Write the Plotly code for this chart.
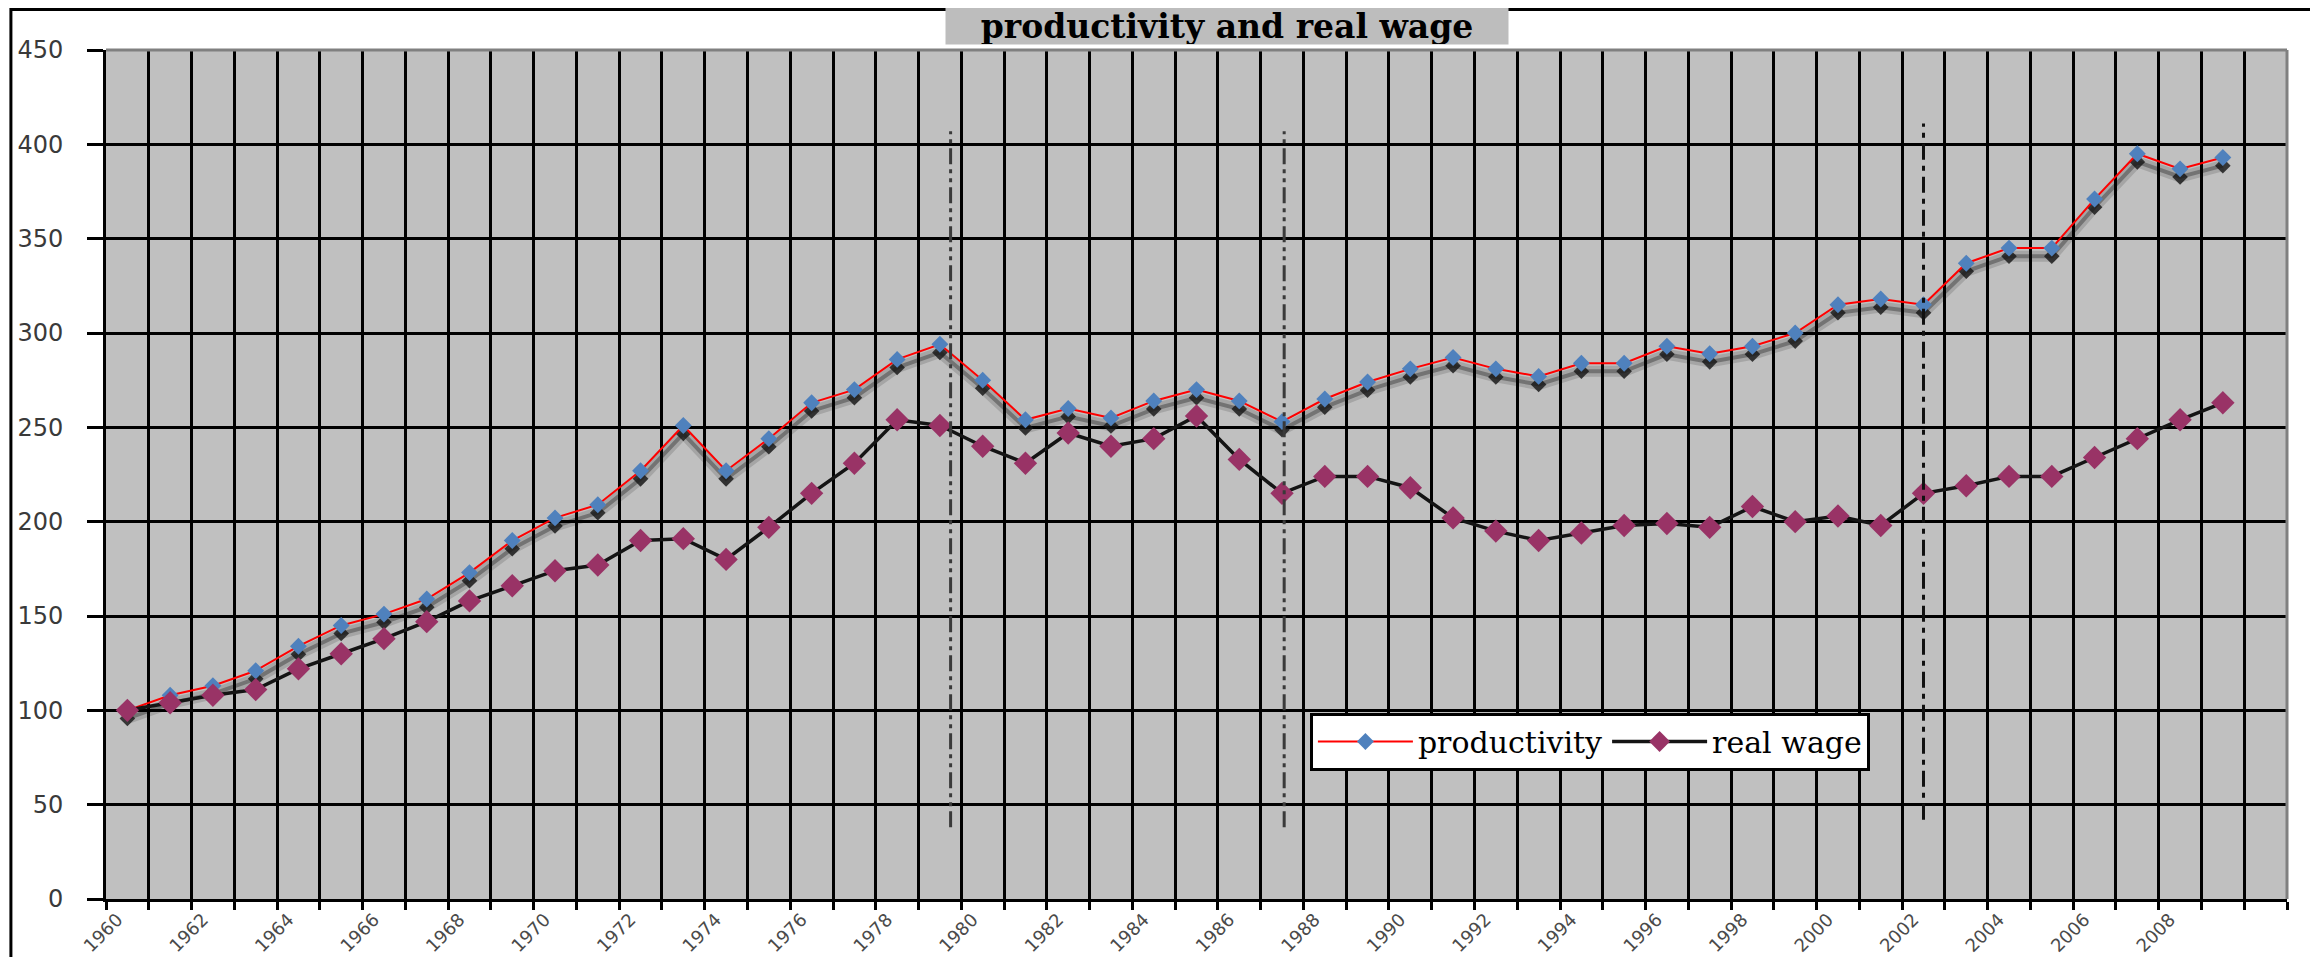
import plotly.graph_objects as go

# ---------------- data ----------------
years = list(range(1960, 2010))
axis_categories = list(range(1960, 2011))          # last category (2010) is empty
tick_years = list(range(1960, 2009, 2))

productivity = [100, 108, 113, 121, 134, 145, 151, 159, 173, 190,
                202, 209, 227, 251, 227, 244, 263, 270, 286, 294,
                275, 254, 260, 255, 264, 270, 264, 253, 265, 274,
                281, 287, 281, 277, 284, 284, 293, 289, 293, 300,
                315, 318, 315, 337, 345, 345, 371, 395, 387, 393]

real_wage = [100, 104, 108, 111, 122, 130, 138, 147, 158, 166,
             174, 177, 190, 191, 180, 197, 215, 231, 254, 251,
             240, 231, 247, 240, 244, 256, 233, 215, 224, 224,
             218, 202, 195, 190, 194, 198, 199, 197, 208, 200,
             203, 198, 215, 219, 224, 224, 234, 244, 254, 263]

# vertical break markers (year position, value extent)
break_years = [1979.25, 1987.05, 2002.0]
break_low = [38, 38, 42]
break_high = [407, 407, 411]

series_names = ["productivity", "real wage"]
title_text = "productivity and real wage"

# ---------------- styling ----------------
Y_MAX = 450
SHADOW_SHIFT = 4.3          # value units (~8 px) for the drop shadow axis
cat_edges = [c - 0.5 for c in axis_categories] + [axis_categories[-1] + 0.5]

fig = go.Figure()

# drop shadow of productivity (drawn on a slightly shifted overlay axis)
fig.add_trace(go.Scatter(x=years, y=productivity, yaxis="y2", mode="lines",
                         line=dict(color="rgba(0,0,0,0.14)", width=11),
                         showlegend=False, hoverinfo="skip"))
fig.add_trace(go.Scatter(x=years, y=productivity, yaxis="y2", mode="lines+markers",
                         line=dict(color="rgba(0,0,0,0.30)", width=4),
                         marker=dict(symbol="diamond", size=12, color="rgba(20,20,20,0.8)"),
                         showlegend=False, hoverinfo="skip"))

fig.add_trace(go.Scatter(x=years, y=productivity, yaxis="y3", name=series_names[0],
                         mode="lines+markers",
                         line=dict(color="#FF0000", width=2),
                         marker=dict(symbol="diamond", size=13, color="#4F81BD")))
fig.add_trace(go.Scatter(x=years, y=real_wage, yaxis="y3", name=series_names[1],
                         mode="lines+markers",
                         line=dict(color="#141414", width=3.5),
                         marker=dict(symbol="diamond", size=18, color="#993366")))

shapes = []
break_styles = [("#3a3a3a", "16px,5px,4px,5px,4px,5px"),
                ("#3a3a3a", "16px,5px,4px,5px,4px,5px"),
                ("#111111", "16px,6px,5px,6px")]
for bx, lo, hi, (col, dsh) in zip(break_years, break_low, break_high, break_styles):
    shapes.append(dict(type="line", xref="x", yref="y", x0=bx, x1=bx, y0=lo, y1=hi,
                       line=dict(color=col, width=3, dash=dsh), layer="above"))

# grey plot-area frame (top and right)
shapes.append(dict(type="line", xref="paper", yref="paper", x0=0, x1=1, y0=1, y1=1,
                   line=dict(color="#808080", width=3), layer="above"))
shapes.append(dict(type="line", xref="paper", yref="paper", x0=1, x1=1, y0=0, y1=1,
                   line=dict(color="#808080", width=3), layer="above"))
# outer chart border
shapes.append(dict(type="rect", xref="paper", yref="paper",
                   x0=-0.0436, x1=1.0119, y0=-0.12, y1=1.0477,
                   line=dict(color="black", width=3), fillcolor="rgba(0,0,0,0)", layer="above"))

y_tick_font = dict(family="DejaVu Sans", size=24, color="#3a3a3a")
x_tick_font = dict(family="DejaVu Sans", size=18, color="#4a4a4a")

fig.update_layout(
    width=2318, height=957,
    # the page body adds an 8 px offset; margins compensate for it
    margin=dict(l=98, r=39, t=42, b=66, pad=0),
    paper_bgcolor="white", plot_bgcolor="#C0C0C0",
    hovermode=False,
    xaxis=dict(range=[cat_edges[0], cat_edges[-1]], tickmode="array",
               tickvals=tick_years, ticktext=[str(y) for y in tick_years],
               tickangle=-45, ticks="", showgrid=False, zeroline=False,
               showline=True, linecolor="black", linewidth=3, automargin=False,
               tickfont=x_tick_font, ticklabelstandoff=0, ticklabelshift=-10,
               minor=dict(tickmode="array", tickvals=cat_edges, ticks="outside",
                          ticklen=8, tickwidth=3, tickcolor="black",
                          showgrid=True, gridcolor="black", gridwidth=3)),
    yaxis=dict(range=[0, Y_MAX], tick0=0, dtick=50, showgrid=True, automargin=False,
               gridcolor="black", gridwidth=3, ticks="outside", ticklen=16,
               tickwidth=3, tickcolor="black", showline=True, linecolor="black",
               linewidth=3, zeroline=False, tickfont=y_tick_font, ticklabelstandoff=19),
    yaxis2=dict(overlaying="y", range=[SHADOW_SHIFT, Y_MAX + SHADOW_SHIFT], visible=False),
    yaxis3=dict(overlaying="y", range=[0, Y_MAX], visible=False),
    legend=dict(orientation="h", x=0.552, xanchor="left", y=0.1855, yanchor="middle",
                bgcolor="white", bordercolor="black", borderwidth=3,
                font=dict(family="DejaVu Serif", size=30, color="black"),
                itemwidth=95),
    shapes=shapes,
    annotations=[dict(text=title_text, xref="paper", yref="paper", x=0.514, y=1.0283,
                      xanchor="center", yanchor="middle", showarrow=False,
                      width=562, height=36, bgcolor="#bdbdbd", borderpad=0,
                      font=dict(family="DejaVu Serif", size=33, color="black", weight="bold"))],
)

fig.write_html("out.html")
